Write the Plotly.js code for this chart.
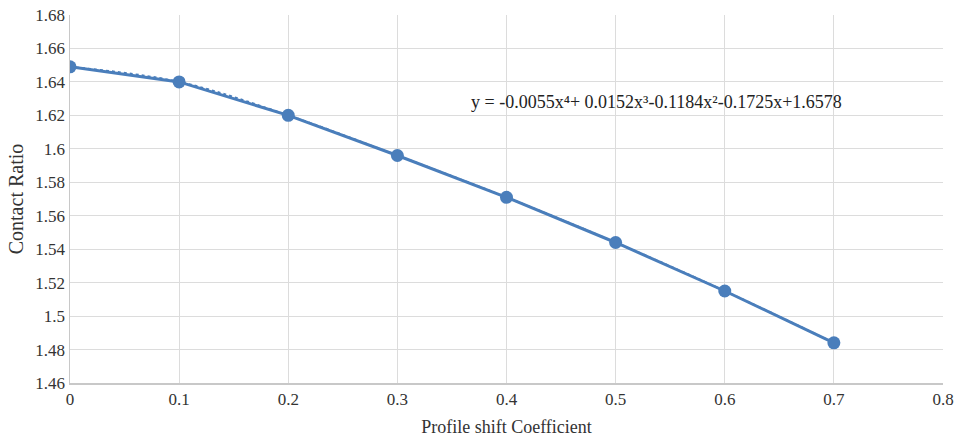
<!DOCTYPE html>
<html>
<head>
<meta charset="utf-8">
<script src="https://cdn.plot.ly/plotly-3.0.1.min.js"></script>
<style>html,body{margin:0;padding:0;background:#fff;}#chart{width:956px;height:444px;}</style>
</head>
<body>
<div id="chart"></div>
<script>
const shiftCoeff = [0, 0.1, 0.2, 0.3, 0.4, 0.5, 0.6, 0.7];
const contactRatio = [1.649, 1.640, 1.620, 1.596, 1.571, 1.544, 1.515, 1.484];
const xTicks = [0, 0.1, 0.2, 0.3, 0.4, 0.5, 0.6, 0.7, 0.8];
const yTicks = [1.46, 1.48, 1.5, 1.52, 1.54, 1.56, 1.58, 1.6, 1.62, 1.64, 1.66, 1.68];
const equationText = "y = -0.0055x⁴+ 0.0152x³-0.1184x²-0.1725x+1.6578";

const blue = '#4a7ebb';
const serif = 'Liberation Serif, Times New Roman, serif';
const traces = [
  {x: shiftCoeff, y: contactRatio, mode: 'lines', type: 'scatter',
   line: {color: blue, width: 2, dash: 'dot', shape: 'spline'}, showlegend: false},
  {x: shiftCoeff, y: contactRatio, mode: 'lines+markers', type: 'scatter',
   line: {color: blue, width: 3}, marker: {color: blue, size: 13}, showlegend: false}
];
const layout = {
  width: 956, height: 444,
  margin: {l: 70, r: 13, t: 15, b: 61},
  paper_bgcolor: '#fff', plot_bgcolor: '#fff',
  font: {family: serif, color: '#333', size: 17},
  showlegend: false,
  xaxis: {range: [0, 0.8], tickvals: xTicks, ticktext: xTicks.map(String),
    showgrid: true, gridcolor: '#dcdcdc', zeroline: false,
    showline: true, linecolor: '#c8c8c8', linewidth: 1.5, ticks: '',
    tickfont: {family: serif, size: 17, color: '#333'},
    title: {text: 'Profile shift Coefficient', font: {family: serif, size: 18, color: '#333'}, standoff: 12}},
  yaxis: {range: [1.46, 1.68], tickvals: yTicks, ticktext: yTicks.map(v => String(v)),
    showgrid: true, gridcolor: '#dcdcdc', zeroline: false,
    showline: true, linecolor: '#c8c8c8', linewidth: 1.5, ticks: '',
    tickfont: {family: serif, size: 17, color: '#333'},
    title: {text: 'Contact Ratio', font: {family: serif, size: 20, color: '#333'}, standoff: 6}},
  annotations: [{x: 0.366, y: 1.628, xref: 'x', yref: 'y', xanchor: 'left', yanchor: 'middle',
    text: equationText, showarrow: false,
    font: {family: serif, size: 18, color: '#222'}}]
};
Plotly.newPlot('chart', traces, layout, {displayModeBar: false, staticPlot: true});
</script>
</body>
</html>
